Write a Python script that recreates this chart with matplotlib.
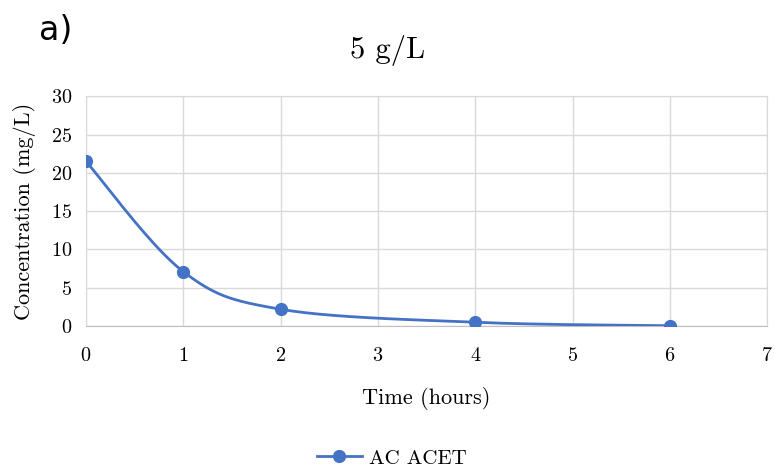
import numpy as np
import matplotlib.pyplot as plt

time_h = [0, 1, 2, 4, 6]
conc = [21.5, 7.1, 2.2, 0.5, 0.05]
series_name = "AC ACET"
x_ticks = [0, 1, 2, 3, 4, 5, 6, 7]
y_ticks = [0, 5, 10, 15, 20, 25, 30]


def smooth_line(xs, ys, n=40):
    # Excel-style smoothed line: cubic Bezier through the points
    xs = np.asarray(xs, float)
    ys = np.asarray(ys, float)
    px = np.concatenate([[xs[0]], xs, [xs[-1]]])
    py = np.concatenate([[ys[0]], ys, [ys[-1]]])
    out_x, out_y = [], []
    t = np.linspace(0, 1, n)
    for k in range(1, len(px) - 2):
        p0 = np.array([px[k], py[k]])
        p3 = np.array([px[k + 1], py[k + 1]])
        c1 = p0 + (np.array([px[k + 1], py[k + 1]]) - np.array([px[k - 1], py[k - 1]])) / 6
        c2 = p3 - (np.array([px[k + 2], py[k + 2]]) - np.array([px[k], py[k]])) / 6
        b = ((1 - t) ** 3)[:, None] * p0 + (3 * (1 - t) ** 2 * t)[:, None] * c1 \
            + (3 * (1 - t) * t ** 2)[:, None] * c2 + (t ** 3)[:, None] * p3
        out_x.extend(b[:, 0])
        out_y.extend(b[:, 1])
    return out_x, out_y


plt.rcParams['font.family'] = ['cmr10', 'DejaVu Serif']
plt.rcParams['axes.formatter.use_mathtext'] = True

blue = '#4472C4'
grid_c = '#d9d9d9'

fig = plt.figure(figsize=(7.75, 4.74), dpi=100)
ax = fig.add_axes([0.111, 0.312, 0.879, 0.485])

sx, sy = smooth_line(time_h, conc)
ax.plot(sx, sy, color=blue, lw=2, zorder=3)
ax.plot(time_h, conc, 'o', color=blue, ms=8.5, zorder=4)

ax.set_xlim(0, 7)
ax.set_ylim(0, 30)
ax.set_xticks(x_ticks)
ax.set_yticks(y_ticks)
ax.tick_params(length=0, labelsize=14.5)
ax.tick_params(axis='x', pad=15)
ax.tick_params(axis='y', pad=10)
ax.grid(True, color=grid_c, lw=1)
for s in ax.spines.values():
    s.set_color(grid_c)
ax.spines['bottom'].set_color('#bfbfbf')

ax.set_xlabel("Time (hours)", fontsize=16, labelpad=16)
ax.set_ylabel("Concentration (mg/L)", fontsize=16, labelpad=11)
fig.text(0.5, 0.893, "5 g/L", fontsize=22, ha='center', va='center')

fig.text(0.050, 0.935, "a)", fontsize=24, family='DejaVu Sans', ha='left', va='center')

handle = plt.Line2D([], [], color=blue, lw=2, marker='o', ms=8.5)
fig.legend([handle], [series_name], loc='center', bbox_to_anchor=(0.505, 0.033),
           frameon=False, fontsize=15, handlelength=2.2, handletextpad=0.3)

fig.savefig("out.png", dpi=100)
